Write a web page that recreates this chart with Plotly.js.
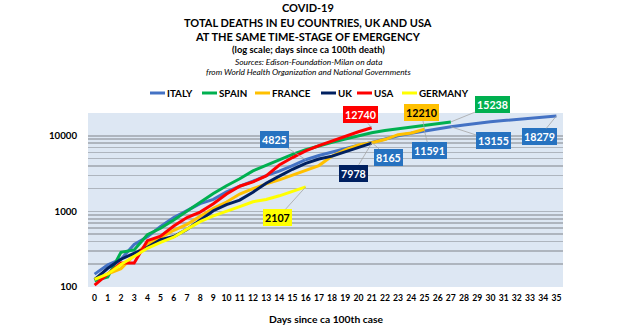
<!DOCTYPE html>
<html><head><meta charset="utf-8">
<script src="https://cdn.plot.ly/plotly-3.0.1.min.js"></script>
<style>html,body{margin:0;padding:0;background:#fff}#chart{width:630px;height:327px}</style>
</head><body><div id="chart"></div>
<script>
// ---- DATA ----
const countries = ["ITALY", "SPAIN", "FRANCE", "UK", "USA", "GERMANY"];
const italy   = [148,197,233,366,463,631,827,1016,1266,1441,1809,2158,2503,2978,3405,4032,4825,5476,6077,6820,7503,8165,9134,10023,10779,11591,12428,13155,13915,14681,15362,15887,16523,17127,17669,18279];
const spain   = [121,136,288,309,491,598,767,1002,1326,1720,2182,2696,3434,4089,4858,5690,6528,7340,8189,9053,10003,10935,11744,12418,13055,13798,14555,15238];
const france  = [127,148,175,264,372,450,562,674,860,1100,1331,1696,1995,2314,2606,3024,3523,4032,5387,6507,7560,8078,8911,10328,10869,12210];
const uk      = [125,177,233,281,335,422,465,578,759,1019,1228,1408,1789,2352,2921,3605,4313,4934,5373,6159,7097,7978];
const usa     = [106,150,208,208,410,470,640,830,980,1260,1700,2150,2450,2950,4100,5150,6300,7400,8550,9850,11300,12740];
const germany = [126,149,198,253,325,389,455,583,732,872,1017,1158,1342,1434,1607,1861,2107];
const dayTicks = [0,1,2,3,4,5,6,7,8,9,10,11,12,13,14,15,16,17,18,19,20,21,22,23,24,25,26,27,28,29,30,31,32,33,34,35];
const yMajor = [100, 1000, 10000];
const yMinor = [200,300,400,500,600,700,800,900,2000,3000,4000,5000,6000,7000,8000,9000,20000];

// ---- STYLE ----
const FAM = "Lato";
const FONT = "Lato, 'Liberation Sans', sans-serif";
const colors = ["#4472C4", "#00B050", "#FFC000", "#002060", "#FF0000", "#FFFF00"];
const series = [italy, spain, france, uk, usa, germany];
const W = 630, H = 327, L = 88, R = 67, T = 113, B = 40;
const pw = W - L - R, ph = H - T - B;
const px2x = px => (px - L) / pw;
const py2y = py => (H - B - py) / ph;

// size fonts so that text widths match the reference
const ctx = document.createElement("canvas").getContext("2d");
function fit(text, target, weight, italic) {
  ctx.font = (italic ? "italic " : "") + weight + " 100px " + FAM;
  const w = ctx.measureText(text).width;
  return w > 0 ? Math.round(100 * target / w * 10) / 10 : 11;
}

const traces = series.map((vals, i) => ({
  type: "scatter", mode: "lines", name: countries[i],
  x: vals.map((_, d) => d), y: vals,
  line: {color: colors[i], width: 3, shape: "linear"},
  showlegend: false, hoverinfo: "skip"
}));

const annotations = [];
const titleLines = [
  {t: "COVID-19", py: 7, tw: 52, w: 700, it: false},
  {t: "TOTAL DEATHS IN EU COUNTRIES, UK AND USA", py: 22, tw: 248, w: 700, it: false},
  {t: "AT THE SAME TIME-STAGE OF EMERGENCY", py: 36, tw: 226, w: 700, it: false},
  {t: "(log scale; days since ca 100th death)", py: 49, tw: 153, w: 700, it: false},
  {t: "Sources: Edison-Foundation-Milan on data", py: 62, tw: 148, w: 400, it: true},
  {t: "from World Health Organization and National Governments", py: 72, tw: 206, w: 400, it: true}
];
titleLines.forEach(l => annotations.push({
  xref: "paper", yref: "paper", x: px2x(308), y: py2y(l.py),
  xanchor: "center", yanchor: "middle", showarrow: false,
  text: l.it ? "<i>" + l.t + "</i>" : l.t,
  font: {family: FONT, size: fit(l.t, l.tw, l.w, l.it), color: "#000", weight: l.w}
}));

// legend drawn as line samples + labels
const legendX = [150, 202, 255, 321, 357, 402];
const legendY = 93;
const legendSize = fit("GERMANY", 49, 700, false);
const shapes = [];
countries.forEach((c, i) => {
  shapes.push({type: "line", xref: "paper", yref: "paper",
    x0: px2x(legendX[i]), x1: px2x(legendX[i] + 15), y0: py2y(legendY), y1: py2y(legendY),
    line: {color: colors[i], width: 3}});
  annotations.push({xref: "paper", yref: "paper", x: px2x(legendX[i] + 15), y: py2y(legendY),
    xanchor: "left", yanchor: "middle", showarrow: false, text: c,
    font: {family: FONT, size: legendSize, color: "#000", weight: 700}});
});

// x-axis title
const xTitle = "Days since ca 100th case";
annotations.push({xref: "paper", yref: "paper", x: px2x(326), y: py2y(319),
  xanchor: "center", yanchor: "middle", showarrow: false, text: xTitle,
  font: {family: FONT, size: fit(xTitle, 114, 700, false), color: "#000", weight: 700}});

// data labels
const blue = "#2672C0";
const labelSize = fit("12740", 31, 700, false);
const labels = [
  {s: italy, d: 16, bg: blue, fc: "#fff", ax: -31, ay: -20},
  {s: germany, d: 16, bg: "#FFFF00", fc: "#000", ax: -28, ay: 31},
  {s: usa, d: 21, bg: "#FF0000", fc: "#fff", ax: -11, ay: -13},
  {s: uk, d: 21, bg: "#002060", fc: "#fff", ax: -18, ay: 30},
  {s: italy, d: 21, bg: blue, fc: "#fff", ax: 17, ay: 15},
  {s: france, d: 25, bg: "#FFC000", fc: "#000", ax: -3, ay: -17},
  {s: italy, d: 25, bg: blue, fc: "#fff", ax: 5, ay: 20},
  {s: spain, d: 27, bg: "#00B050", fc: "#fff", ax: 42, ay: -17},
  {s: italy, d: 27, bg: blue, fc: "#fff", ax: 43, ay: 14},
  {s: italy, d: 35, bg: blue, fc: "#fff", ax: -17, ay: 21}
];
labels.forEach(lb => annotations.push({
  xref: "x", yref: "y", x: lb.d, y: Math.log10(lb.s[lb.d]),
  text: String(lb.s[lb.d]), showarrow: true, arrowhead: 0, arrowwidth: 0.8,
  arrowcolor: "#A6A6A6", ax: lb.ax, ay: lb.ay, standoff: 0,
  bgcolor: lb.bg, borderpad: 2, borderwidth: 0,
  font: {family: FONT, size: labelSize, color: lb.fc, weight: 700}
}));

const layout = {
  width: W, height: H,
  margin: {l: L, r: R, t: T, b: B, pad: 0},
  paper_bgcolor: "#fff", plot_bgcolor: "#DDE7F3",
  showlegend: false,
  font: {family: FONT, color: "#000"},
  xaxis: {
    range: [-0.5, 35.5], tickmode: "array", tickvals: dayTicks, ticktext: dayTicks.map(String),
    tickangle: 0, showgrid: false, zeroline: false, showline: false, ticks: "",
    ticklabelstandoff: 4,
    tickfont: {family: FONT, size: fit("35", 10, 700, false), weight: 700, color: "#000"}, fixedrange: true
  },
  yaxis: {
    type: "log", range: [2, Math.log10(20000)], tickmode: "array", tickvals: yMajor,
    ticktext: yMajor.map(String), showgrid: true, gridcolor: "#AEB5BE", gridwidth: 1.6,
    minor: {tickmode: "array", tickvals: yMinor, showgrid: true, gridcolor: "#AEB5BE", gridwidth: 1.6, ticks: ""},
    zeroline: false, showline: false, ticks: "", ticklabelstandoff: 10,
    tickfont: {family: FONT, size: fit("10000", 28, 700, false), weight: 700, color: "#000"}, fixedrange: true
  },
  annotations: annotations,
  shapes: shapes
};

Plotly.newPlot("chart", traces, layout, {staticPlot: true, displayModeBar: false});
</script>
</body></html>
